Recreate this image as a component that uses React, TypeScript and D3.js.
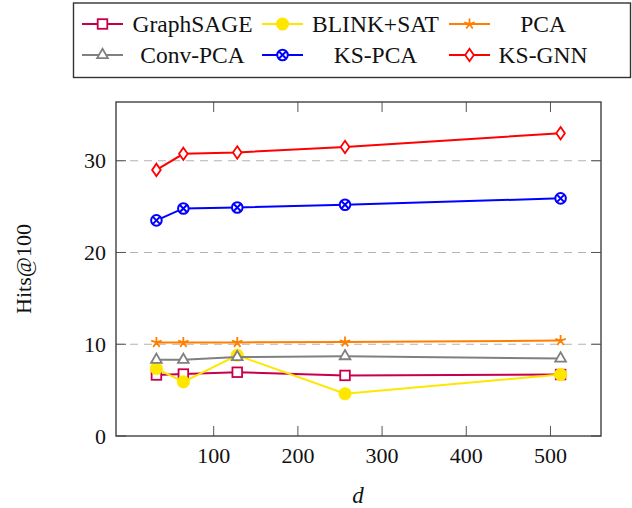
import React from "react";
import * as d3 from "d3";

const xValues = [32, 64, 128, 256, 512];
const graphSAGE = [6.65, 6.75, 6.95, 6.6, 6.7];
const blinkSAT = [7.35, 5.9, 8.8, 4.6, 6.7];
const pca = [10.2, 10.2, 10.2, 10.25, 10.4];
const convPCA = [8.3, 8.3, 8.6, 8.7, 8.45];
const ksPCA = [23.5, 24.8, 24.9, 25.2, 25.9];
const ksGNN = [29.0, 30.75, 30.9, 31.5, 33.0];
const xTicks = [100, 200, 300, 400, 500];
const yTicks = [0, 10, 20, 30];

type Mark = "square" | "circle" | "star" | "triangle" | "otimes" | "diamond";
const series: { name: string; values: number[]; color: string; mark: Mark }[] = [
  { name: "GraphSAGE", values: graphSAGE, color: "#c8004b", mark: "square" },
  { name: "BLINK+SAT", values: blinkSAT, color: "#ffe600", mark: "circle" },
  { name: "PCA", values: pca, color: "#ff8000", mark: "star" },
  { name: "Conv-PCA", values: convPCA, color: "#808080", mark: "triangle" },
  { name: "KS-PCA", values: ksPCA, color: "#0000ff", mark: "otimes" },
  { name: "KS-GNN", values: ksGNN, color: "#ff0000", mark: "diamond" },
];

const L = 116, R = 601, T = 102, B = 436;
const FONT = "Liberation Serif, DejaVu Serif, serif";

function Marker({ mark, x, y, color }: { mark: Mark; x: number; y: number; color: string }) {
  const sw = 1.8;
  switch (mark) {
    case "square":
      return <rect x={x - 4.8} y={y - 4.8} width={9.6} height={9.6} fill="white" stroke={color} strokeWidth={sw} />;
    case "circle":
      return <circle cx={x} cy={y} r={6.3} fill={color} stroke={color} strokeWidth={0.5} />;
    case "star": {
      const r = 5.5;
      const d = d3.range(5).map((i) => {
        const a = -Math.PI / 2 + (i * 2 * Math.PI) / 5;
        return `M${x},${y}L${x + r * Math.cos(a)},${y + r * Math.sin(a)}`;
      }).join("");
      return <path d={d} stroke={color} strokeWidth={sw} fill="none" />;
    }
    case "triangle": {
      const r = 6.2;
      const d = `M${x},${y - r}L${x + r * 0.866},${y + r * 0.5}L${x - r * 0.866},${y + r * 0.5}Z`;
      return <path d={d} stroke={color} strokeWidth={sw} fill="white" />;
    }
    case "otimes": {
      const r = 5.3;
      const k = r * 0.7071;
      return (
        <g stroke={color} strokeWidth={2} fill="white">
          <circle cx={x} cy={y} r={r} />
          <path d={`M${x - k},${y - k}L${x + k},${y + k}M${x - k},${y + k}L${x + k},${y - k}`} />
        </g>
      );
    }
    case "diamond": {
      const w = 4.3, h = 6.2;
      return <path d={`M${x},${y - h}L${x + w},${y}L${x},${y + h}L${x - w},${y}Z`} stroke={color} strokeWidth={sw} fill="white" />;
    }
  }
}

export default function App() {
  const x = d3.scaleLinear().domain([-16, 560]).range([L, R]);
  const y = d3.scaleLinear().domain([0, 36.4]).range([B, T]);
  const line = d3.line<number>().x((_, i) => x(xValues[i])).y((v) => y(v));

  const legendCols = [
    { lx: 82, cx: 192.5 },
    { lx: 262, cx: 375.5 },
    { lx: 449, cx: 543 },
  ];
  const legendRows = [24, 55];

  return (
    <div style={{ position: "absolute", left: 0, top: 0 }}>
      <svg width={632} height={508} style={{ display: "block" }}>
        <rect width={632} height={508} fill="white" />
        {yTicks.filter((t) => t > 0).map((t) => (
          <line key={t} x1={L} x2={R} y1={y(t)} y2={y(t)} stroke="#b3b3b3" strokeWidth={1.2} strokeDasharray="8 6" />
        ))}
        {xTicks.map((t) => (
          <g key={t} stroke="#555" strokeWidth={1}>
            <line x1={x(t)} x2={x(t)} y1={B} y2={B - 10} />
            <line x1={x(t)} x2={x(t)} y1={T} y2={T + 10} />
          </g>
        ))}
        {yTicks.map((t) => (
          <g key={t} stroke="#555" strokeWidth={1}>
            <line x1={L} x2={L + 10} y1={y(t)} y2={y(t)} />
            <line x1={R} x2={R - 10} y1={y(t)} y2={y(t)} />
          </g>
        ))}
        {series.map((s) => (
          <g key={s.name}>
            <path d={line(s.values) || ""} fill="none" stroke={s.color} strokeWidth={2} />
            {s.values.map((v, i) => (
              <Marker key={i} mark={s.mark} x={x(xValues[i])} y={y(v)} color={s.color} />
            ))}
          </g>
        ))}
        <rect x={L} y={T} width={R - L} height={B - T} fill="none" stroke="#404040" strokeWidth={1.4} />
        {xTicks.map((t) => (
          <text key={t} x={x(t)} y={463} textAnchor="middle" fontFamily={FONT} fontSize={22} fill="#111">{t}</text>
        ))}
        {yTicks.map((t) => (
          <text key={t} x={106} y={y(t) + 7.5} textAnchor="end" fontFamily={FONT} fontSize={22} fill="#111">{t}</text>
        ))}
        <text x={358} y={503} textAnchor="middle" fontFamily={FONT} fontSize={23} fontStyle="italic" fill="#111">d</text>
        <text transform={`translate(31,${(T + B) / 2}) rotate(-90)`} textAnchor="middle" fontFamily={FONT} fontSize={22} fill="#111">Hits@100</text>
        <rect x={73.5} y={3} width={557} height={74.5} fill="white" stroke="#333" strokeWidth={1.4} />
        {series.map((s, i) => {
          const col = legendCols[i % 3];
          const ry = legendRows[Math.floor(i / 3)];
          return (
            <g key={s.name}>
              <line x1={col.lx} x2={col.lx + 41} y1={ry} y2={ry} stroke={s.color} strokeWidth={2} />
              <Marker mark={s.mark} x={col.lx + 20.5} y={ry} color={s.color} />
              <text x={col.cx} y={ry + 8} textAnchor="middle" fontFamily={FONT} fontSize={23.5} fill="#111">{s.name}</text>
            </g>
          );
        })}
      </svg>
    </div>
  );
}
